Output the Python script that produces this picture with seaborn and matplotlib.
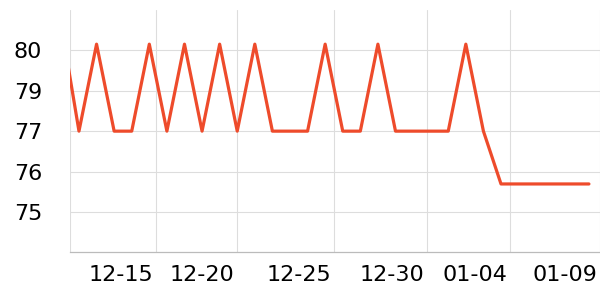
import matplotlib
matplotlib.use("Agg")
import matplotlib.pyplot as plt
import matplotlib.transforms as mtransforms
import seaborn as sns
import numpy as np
import pandas as pd

# Data: one point per day, index -1 is the day before the first fully visible one
day_index = list(range(-1, 30))
values = [80.8, 77.4, 80.2, 77.4, 77.4, 80.2, 77.4, 80.2, 77.4, 80.2,
          77.4, 80.2, 77.4, 77.4, 77.4, 80.2, 77.4, 77.4, 80.2, 77.4,
          77.4, 77.4, 77.4, 80.2, 77.4, 75.7, 75.7, 75.7, 75.7, 75.7, 75.7]

x_tick_pos = [-0.51, 4.36, 9.0, 14.5, 19.8, 24.53, 29.63]
x_tick_labels = ["", "12-15", "12-20", "12-25", "12-30", "01-04", "01-09"]
y_tick_pos = [74.8, 76.1, 77.4, 78.7, 80.0]
y_tick_labels = ["75", "76", "77", "79", "80"]

df = pd.DataFrame({"day": day_index, "value": values})

sns.set_style("white")
plt.rcParams["font.family"] = ["DejaVu Sans"]

fig = plt.figure(figsize=(6, 3), dpi=100)
ax = fig.add_axes([70 / 600, 1 - 252.3 / 300, 530 / 600, (252.3 - 10) / 300])

sns.lineplot(data=df, x="day", y="value", ax=ax, color="#EE4B2B", linewidth=2.3)

ax.set_xlim(-0.51, 29.63)
ax.set_ylim(73.5, 81.3)
ax.set_xticks(x_tick_pos)
ax.set_xticklabels(x_tick_labels, ha="right")
ax.set_yticks(y_tick_pos)
ax.set_yticklabels(y_tick_labels)
ax.set_xlabel("")
ax.set_ylabel("")

ax.grid(True, color="#DDDDDD", linewidth=0.8)
ax.set_axisbelow(True)
for s in ["top", "right", "left"]:
    ax.spines[s].set_visible(False)
ax.spines["bottom"].set_color("#BBBBBB")
ax.spines["bottom"].set_linewidth(0.9)

ax.tick_params(axis="x", length=2, color="#BBBBBB", width=0.8, labelsize=16, pad=7, colors="#BBBBBB", labelcolor="black")
ax.tick_params(axis="y", length=2, color="#DDDDDD", width=0.8, labelsize=16, pad=18, labelcolor="black")

shift = mtransforms.ScaledTranslation(-2.5 / 100, 0, fig.dpi_scale_trans)
for lbl in ax.get_xticklabels():
    lbl.set_transform(lbl.get_transform() + shift)

fig.savefig("out.png", dpi=100)
